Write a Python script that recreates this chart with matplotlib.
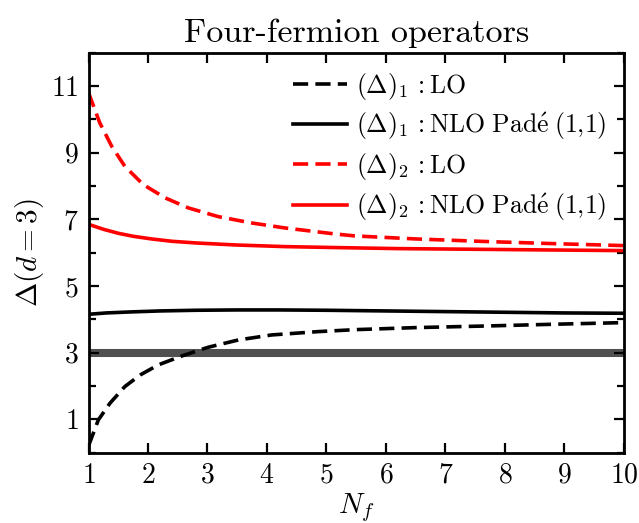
import numpy as np
import matplotlib
matplotlib.use('Agg')
import matplotlib.pyplot as plt
from matplotlib.ticker import MultipleLocator

plt.rcParams['font.family'] = 'serif'
plt.rcParams['font.serif'] = ['cmr10']
plt.rcParams['mathtext.fontset'] = 'cm'
plt.rcParams['axes.formatter.use_mathtext'] = True

# values
nf_lo1 = [1.0, 1.165, 1.36, 1.61, 1.87, 2.17, 2.57, 3.01, 3.52, 4.08, 4.86, 5.5, 6.5, 7.72, 8.8, 10.0]
lo1 = [0.2, 0.98, 1.48, 1.98, 2.33, 2.63, 2.90, 3.16, 3.38, 3.53, 3.63, 3.69, 3.75, 3.80, 3.85, 3.90]

nf_nlo1 = [1.0, 1.3, 1.7, 2.2, 2.8, 3.5, 4.2, 5.0, 6.0, 7.0, 8.0, 9.0, 10.0]
nlo1 = [4.15, 4.19, 4.22, 4.25, 4.27, 4.28, 4.28, 4.27, 4.25, 4.23, 4.21, 4.19, 4.18]

nf_lo2 = [1.0, 1.19, 1.39, 1.61, 1.92, 2.29, 2.68, 3.18, 3.74, 4.30, 5.14, 5.48, 6.5, 7.72, 8.8, 10.0]
lo2 = [10.8, 9.89, 9.19, 8.59, 8.04, 7.64, 7.34, 7.08, 6.89, 6.74, 6.56, 6.50, 6.41, 6.33, 6.27, 6.21]

nf_nlo2 = [1.0, 1.25, 1.5, 1.75, 2.06, 2.4, 2.8, 3.46, 4.3, 5.2, 6.2, 7.5, 8.7, 10.0]
nlo2 = [6.85, 6.70, 6.58, 6.49, 6.41, 6.34, 6.29, 6.23, 6.18, 6.15, 6.12, 6.10, 6.08, 6.06]

band_level = 3.0

fig = plt.figure(figsize=(6.39, 5.23), dpi=100)
ax = fig.add_axes([0.1385, 0.1346, 0.838, 0.7648])

ax.axhline(band_level, color='#505050', lw=5.8, zorder=1)

lw = 2.6
dash = (0, (4.2, 2.0))
ax.plot(nf_lo1, lo1, color='black', lw=lw, ls=dash, label=r'$(\Delta)_1\,:\mathrm{LO}$')
ax.plot(nf_nlo1, nlo1, color='black', lw=lw,
        label=r'$(\Delta)_1\,:\mathrm{NLO\ Pad\acute{e}}\;(1{,}1)$')
ax.plot(nf_lo2, lo2, color='red', lw=lw, ls=dash, label=r'$(\Delta)_2\,:\mathrm{LO}$')
ax.plot(nf_nlo2, nlo2, color='red', lw=lw,
        label=r'$(\Delta)_2\,:\mathrm{NLO\ Pad\acute{e}}\;(1{,}1)$')

ax.set_xlim(1, 10)
ax.set_ylim(0, 12)
ax.xaxis.set_major_locator(MultipleLocator(1))
ax.yaxis.set_major_locator(MultipleLocator(2, offset=1))
ax.yaxis.set_minor_locator(MultipleLocator(1))
ax.tick_params(which='both', direction='in', top=True, right=True, width=1.6, labelsize=20)
ax.tick_params(which='major', length=7)
ax.tick_params(which='minor', length=5)
ax.tick_params(axis='x', pad=7)
ax.tick_params(axis='y', pad=7)
for s in ax.spines.values():
    s.set_linewidth(2)

ax.set_xlabel(r'$N_f$', fontsize=21, labelpad=2)
ax.set_ylabel(r'$\Delta(d=3)$', fontsize=21, labelpad=4)
ax.set_title('Four-fermion operators', fontsize=24.5, pad=8)

ax.legend(loc='upper right', frameon=False, fontsize=18.5, handlelength=2.1,
          labelspacing=0.36, handletextpad=0.35, borderaxespad=0.3)

fig.savefig('out.png', dpi=100)
